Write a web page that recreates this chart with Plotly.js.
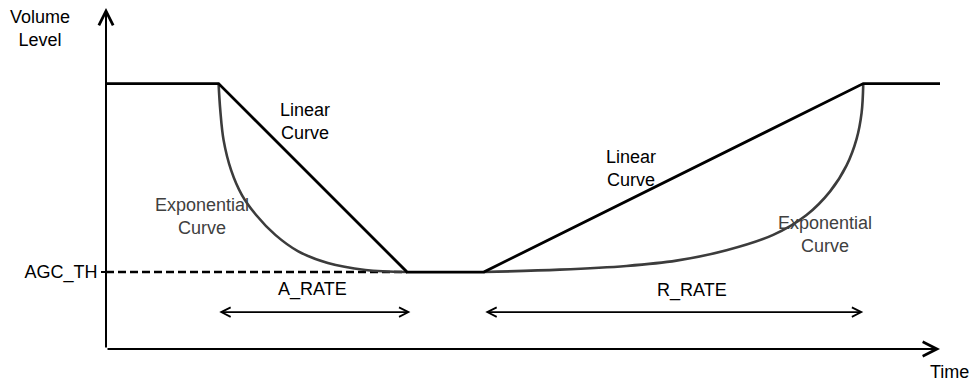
<!DOCTYPE html>
<html>
<head>
<meta charset="utf-8">
<script src="https://cdn.plot.ly/plotly-3.0.1.min.js"></script>
<style>html,body{margin:0;padding:0;background:#fff;}#chart{width:970px;height:388px;}</style>
</head>
<body>
<div id="chart"></div>
<script>
// Time axis runs 0..100, level axis 0..130 (arbitrary units)
const topLevel = 100;
const agcTh = 29;
const linearT = [0, 13.5, 36.1, 45.3, 90.8, 100];
const linearL = [100, 100, 29, 29, 100, 100];
const expAttackT = [13.5, 13.7, 14.1, 15.0, 16.3, 18.0, 20.3, 23.0, 26.6, 31.1, 36.1];
const expAttackL = [100, 90.1, 78.7, 67.4, 58.0, 50.5, 43.0, 36.9, 32.4, 29.8, 29];
const expReleaseT = [45.3, 54.4, 62.4, 68.4, 74.4, 80.0, 84.0, 86.8, 88.8, 90.0, 90.6, 90.8];
const expReleaseL = [29, 29.9, 31.3, 33.3, 37.2, 43.0, 50.5, 59.3, 69.2, 79.2, 89.0, 100];
const thresholdT = [0, 36.1];
const aRate = [13.4, 36.5];
const rRate = [45.3, 90.8];
const rateLevel = 13.9;
const yTickVals = [agcTh];
const yTickText = ['AGC_TH'];

const FONT = 'Liberation Sans, Arial, sans-serif';
const FS = 18;

const traces = [
  {x: thresholdT, y: [agcTh, agcTh], mode: 'lines', line: {color: '#000', width: 2.5, dash: '8px,4px'}},
  {x: expAttackT, y: expAttackL, mode: 'lines', line: {color: '#3c3c3c', width: 2.6, shape: 'spline'}},
  {x: expReleaseT, y: expReleaseL, mode: 'lines', line: {color: '#3c3c3c', width: 2.6, shape: 'spline'}},
  {x: linearT, y: linearL, mode: 'lines', line: {color: '#000', width: 2.8}}
];

function arrow(x, y, ax, ay, w, s, both) {
  const a = {x: x, y: y, ax: ax, ay: ay, xref: 'x', yref: 'y', axref: 'x', ayref: 'y',
    text: '', showarrow: true, arrowhead: 5, arrowwidth: w, arrowsize: s, arrowcolor: '#000', standoff: 0};
  if (both) { a.arrowside = 'end+start'; a.startarrowhead = 5; a.startarrowsize = s; a.startstandoff = 0; }
  return a;
}
function label(x, y, text, color, ref) {
  return {x: x, y: y, xref: ref ? 'paper' : 'x', yref: ref ? 'paper' : 'y', text: text, showarrow: false,
    xanchor: 'center', yanchor: 'middle', font: {family: FONT, size: FS, color: color}};
}

const annotations = [
  arrow(100, 0, 0, 0, 2, 1.4, false),
  arrow(0, 128.5, 0, 0, 2, 1.4, false),
  arrow(aRate[1], rateLevel, aRate[0], rateLevel, 1.6, 1.15, true),
  arrow(rRate[1], rateLevel, rRate[0], rateLevel, 1.6, 1.15, true),
  label(23.9, 85.7, 'Linear<br>Curve', '#000'),
  label(11.5, 49.8, 'Exponential<br>Curve', '#404040'),
  label(62.9, 68.2, 'Linear<br>Curve', '#000'),
  label(86.2, 43.0, 'Exponential<br>Curve', '#404040'),
  label(24.8, 22.3, 'A_RATE', '#000'),
  label(70.3, 21.9, 'R_RATE', '#000'),
  label(-0.0791, 0.928, 'Volume<br>Level', '#000', true),
  label(1.0108, -0.0678, 'Time', '#000', true)
];

const layout = {
  width: 970, height: 388,
  margin: {l: 106, r: 30, t: 4, b: 39},
  paper_bgcolor: '#fff', plot_bgcolor: '#fff',
  showlegend: false,
  xaxis: {range: [0, 100], showgrid: false, zeroline: false, showline: false, showticklabels: false, ticks: ''},
  yaxis: {range: [0, 130], showgrid: false, zeroline: false, showline: false,
    tickvals: yTickVals, ticktext: yTickText, ticks: 'outside', ticklen: 4, tickwidth: 2, tickcolor: '#000',
    tickfont: {family: FONT, size: FS, color: '#000'}},
  annotations: annotations,
  font: {family: FONT, size: FS, color: '#000'}
};

Plotly.newPlot('chart', traces, layout, {staticPlot: true, displayModeBar: false});
</script>
</body>
</html>
